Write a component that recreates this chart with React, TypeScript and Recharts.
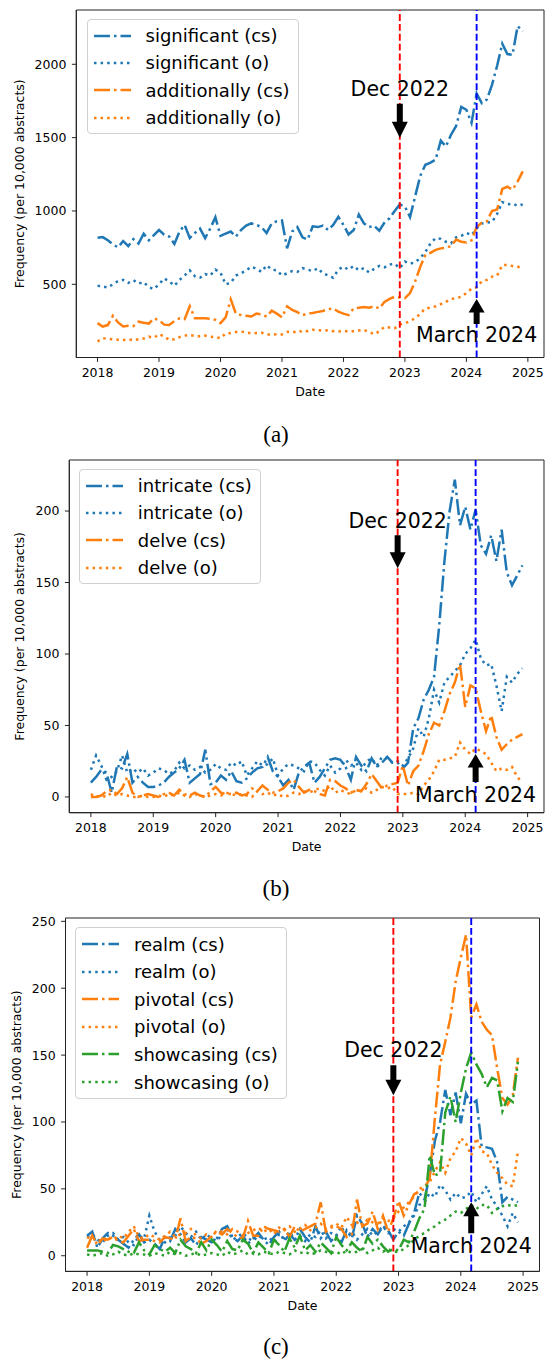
import React from 'react';
import { LineChart, Line, XAxis, YAxis, ReferenceLine, ReferenceArea, ReferenceDot, Legend } from 'recharts';

const BLUE = '#1f77b4';
const ORANGE = '#ff7f0e';
const GREEN = '#2ca02c';
const DASHDOT = '16 4 2.5 4';
const DOTTED = '2.5 4.1';
const FONT = '"DejaVu Sans", sans-serif';

// x = months since Jan 2018
const monthIdx = Array.from({ length: 84 }, (_, i) => i);
const yearTicks = [0, 12, 24, 36, 48, 60, 72, 84];
const yearLabels = ['2018', '2019', '2020', '2021', '2022', '2023', '2024', '2025'];
const DEC_2022 = 59;
const MAR_2024 = 74;

// (a)
const significantCs = [
  818, 822, 800, 772, 752, 795, 760, 808, 778, 845, 800, 835,
  870, 838, 825, 775, 860, 905, 815, 850, 880, 815, 880, 957,
  830, 845, 860, 825, 870, 900, 915, 905, 890, 850, 915, 930,
  935, 745, 860, 890, 820, 805, 895, 890, 900, 870, 905, 960,
  905, 840, 870, 975, 915, 890, 900, 865, 920, 950, 1000, 1045,
  1030, 958, 1100, 1240, 1315, 1330, 1350, 1480, 1440, 1520, 1580, 1710,
  1690, 1600, 1800, 1735, 1760, 1860, 1990, 2140, 2070, 2065, 2260, 2225,
];
const significantO = [
  490, 485, 478, 500, 522, 530, 510, 528, 505, 515, 480, 468,
  500, 540, 520, 490, 530, 560, 595, 555, 545, 570, 560, 600,
  580, 500, 510, 560, 575, 595, 620, 605, 585, 630, 600, 595,
  560, 575, 590, 585, 610, 600, 590, 610, 575, 560, 545, 600,
  620, 600, 625, 595, 610, 580, 605, 625, 615, 635, 640, 610,
  655, 640, 650, 680, 720, 780, 815, 810, 790, 780, 820, 830,
  850, 835, 880, 915, 920, 925, 980, 1060, 1045, 1050, 1035, 1045,
];
const additionallyCs = [
  235, 212, 222, 285, 240, 212, 218, 215, 245, 238, 232, 268,
  255, 225, 222, 250, 268, 262, 350, 268, 268, 268, 265, 258,
  235, 275, 398, 300, 290, 285, 280, 300, 295, 280, 320, 300,
  275, 350, 325, 310, 290, 300, 305, 312, 318, 330, 336, 313,
  300, 290, 336, 340, 345, 340, 350, 335, 380, 400, 415, 410,
  405, 440, 520, 620, 700, 715, 735, 745, 750, 760, 805, 790,
  785, 800, 890, 920, 930, 1000, 1010, 1150, 1165, 1145, 1200, 1270,
];
const additionallyO = [
  110, 132, 128, 125, 122, 120, 125, 118, 125, 130, 143, 135,
  160, 145, 120, 125, 140, 150, 155, 148, 145, 150, 143, 140,
  132, 165, 168, 175, 178, 172, 165, 168, 170, 160, 155, 160,
  158, 175, 178, 170, 185, 180, 190, 188, 184, 186, 180, 178,
  182, 178, 180, 185, 190, 175, 160, 180, 210, 205, 200, 225,
  234, 250, 268, 300, 336, 340, 350, 365, 380, 400, 405, 415,
  440, 470, 480, 520, 530, 552, 560, 630, 632, 625, 620, 610,
];

// (b)
const intricateCs = [
  10, 14, 19, 17, 3, 21, 20, 30, 10, 14, 10, 7,
  7, 8, 10, 14, 17, 20, 26, 10, 13, 16, 33, 9,
  10, 15, 12, 18, 11, 10, 13, 17, 20, 21, 28, 18,
  14, 8, 12, 5, 17, 21, 24, 10, 14, 20, 26, 27,
  26, 21, 12, 28, 22, 18, 27, 21, 24, 28, 24, 24,
  20, 24, 48, 55, 68, 75, 84, 120, 165, 200, 222, 190,
  203, 187, 201, 176, 170, 183, 165, 187, 157, 148, 155, 162,
];
const intricateO = [
  19, 29, 22, 12, 14, 18, 29, 17, 20, 17, 20, 15,
  17, 20, 19, 16, 18, 24, 20, 22, 19, 21, 17, 19,
  23, 20, 19, 24, 22, 25, 15, 20, 25, 22, 23, 27,
  15, 20, 23, 22, 20, 18, 25, 24, 19, 15, 22, 17,
  20, 26, 22, 24, 19, 25, 27, 22, 28, 27, 24, 25,
  22, 27, 34, 48, 42, 55, 75, 66, 80, 84, 88, 92,
  100, 104, 110, 97, 92, 93, 78, 60, 84, 80, 86, 90,
];
const delveCs = [
  0, 0, 1, 4, 5, 2, 6, 14, 3, 0, 1, 2,
  1, 0, 2, 3, 1, 5, 2, 1, 3, 1, 0, 4,
  7, 3, 2, 2, 3, 1, 2, 6, 4, 8, 5, 3,
  4, 6, 10, 12, 7, 3, 5, 4, 2, 1, 12, 11,
  8, 6, 3, 5, 4, 9, 16, 11, 6, 8, 9, 10,
  22, 8, 18, 22, 32, 44, 52, 50, 60, 72, 80, 93,
  63, 78, 76, 60, 46, 57, 42, 33, 37, 40, 42, 44,
];
const delveO = [
  2, 0, 1, 0, 3, 1, 2, 1, 0, 0, 1, 0,
  0, 1, 0, 2, 1, 3, 1, 0, 2, 1, 0, 1,
  2, 1, 3, 2, 1, 2, 1, 0, 4, 2, 3, 1,
  2, 0, 1, 3, 2, 4, 3, 5, 6, 4, 8, 3,
  5, 3, 2, 5, 4, 6, 3, 5, 7, 6, 7, 2,
  2, 2, 3, 2, 8, 12, 18, 26, 26, 27, 28, 38,
  33, 30, 34, 32, 30, 24, 18, 20, 19, 21, 14, 10,
];

// (c)
const realmCs = [
  15, 18, 6, 13, 17, 15, 12, 9, 6, 12, 16, 10,
  12, 9, 5, 14, 11, 20, 16, 10, 13, 8, 14, 12,
  10, 13, 20, 22, 14, 11, 15, 9, 13, 17, 12, 8,
  14, 18, 11, 16, 12, 20, 14, 10, 22, 13, 18, 11,
  15, 10, 19, 13, 30, 24, 14, 20, 16, 22, 19, 12,
  18, 15, 24, 32, 47, 42, 60, 86, 100, 124, 105, 122,
  99, 121, 113, 116, 82, 81, 80, 70, 40, 44, 42, 40,
];
const realmO = [
  14, 16, 12, 10, 15, 17, 12, 14, 10, 8, 15, 13,
  30, 18, 12, 10, 14, 15, 22, 17, 14, 18, 12, 16,
  13, 11, 16, 20, 12, 14, 17, 13, 11, 15, 12, 14,
  10, 16, 13, 18, 12, 15, 11, 16, 14, 19, 13, 17,
  15, 22, 14, 18, 12, 16, 20, 15, 18, 22, 17, 20,
  18, 22, 25, 30, 38, 40, 47, 44, 53, 49, 42, 47,
  43, 44, 48, 40, 46, 52, 42, 37, 30, 22, 32, 25,
];
const pivotalCs = [
  6, 15, 8, 13, 12, 14, 11, 10, 15, 20, 11, 12,
  12, 11, 10, 14, 13, 12, 28, 11, 14, 13, 9, 11,
  15, 18, 16, 20, 17, 14, 13, 26, 15, 15, 22, 20,
  19, 18, 20, 14, 22, 18, 20, 22, 24, 40, 18, 21,
  22, 20, 14, 16, 42, 22, 24, 33, 20, 30, 18, 28,
  41, 30, 38, 46, 48, 50, 58, 103, 143, 160, 178, 205,
  223, 240, 178, 188, 175, 169, 165, 140, 118, 113, 120, 148,
];
const pivotalO = [
  14, 12, 13, 10, 14, 12, 15, 13, 18, 22, 14, 13,
  16, 14, 12, 15, 18, 14, 16, 17, 20, 15, 13, 16,
  14, 19, 18, 16, 20, 18, 15, 17, 19, 21, 18, 20,
  16, 21, 19, 22, 18, 20, 23, 19, 21, 24, 20, 22,
  24, 21, 29, 23, 25, 22, 27, 25, 24, 28, 26, 28,
  33, 36, 40, 44, 50, 52, 55, 63, 70, 62, 73, 78,
  88, 84, 75, 88, 78, 77, 68, 62, 58, 53, 52, 78,
];
const showcasingCs = [
  4, 4, 4, 3, 2, 8, 7, 5, 3, 2, 10, 4,
  1, 8, 5, 3, 6, 2, 12, 7, 5, 2, 10, 4,
  12, 8, 3, 11, 5, 4, 12, 9, 2, 10, 6, 2,
  12, 8, 3, 13, 6, 15, 4, 8, 3, 10, 6, 2,
  14, 8, 4, 10, 6, 3, 14, 9, 12, 7, 3, 5,
  4, 12, 10, 18, 28, 35, 75, 60, 62, 107, 119, 100,
  122, 140, 152, 143, 136, 126, 133, 131, 108, 118, 115, 145,
];
const showcasingO = [
  1, 0, 1, 2, 0, 1, 3, 1, 0, 2, 1, 1,
  0, 2, 1, 0, 3, 1, 2, 0, 1, 2, 0, 1,
  2, 1, 0, 3, 1, 2, 4, 1, 2, 1, 3, 2,
  1, 3, 2, 1, 4, 2, 3, 1, 2, 4, 3, 2,
  3, 1, 4, 2, 3, 5, 2, 4, 6, 3, 5, 3,
  3, 5, 8, 12, 15, 17, 20, 22, 25, 27, 30, 33,
  32, 35, 38, 35, 38, 38, 32, 35, 37, 38, 37, 38,
];

type Series = { key: string; name: string; values: number[]; color: string; dash: string };

const panels = [
  {
    caption: '(a)', captionY: 435,
    plotTop: 10, plotBottom: 357.5, left: 76.3, right: 544,
    yDomain: [0.9, 2370.2], yTicks: [500, 1000, 1500, 2000], yLabelX: 24.3,
    legendLeft: 86.5, rowH: 27.3,
    dec: { tip: 1500, len: 34, head: 16, textDy: -42 },
    mar: { tip: 400, len: 25, head: 13.5, textDy: 43 },
    series: [
      { key: 'sigCs', name: 'significant (cs)', values: significantCs, color: BLUE, dash: DASHDOT },
      { key: 'sigO', name: 'significant (o)', values: significantO, color: BLUE, dash: DOTTED },
      { key: 'addCs', name: 'additionally (cs)', values: additionallyCs, color: ORANGE, dash: DASHDOT },
      { key: 'addO', name: 'additionally (o)', values: additionallyO, color: ORANGE, dash: DOTTED },
    ] as Series[],
  },
  {
    caption: '(b)', captionY: 889,
    plotTop: 460, plotBottom: 812.7, left: 69.3, right: 544,
    yDomain: [-11, 235.7], yTicks: [0, 50, 100, 150, 200], yLabelX: 24.3,
    legendLeft: 78.8, rowH: 27.3,
    dec: { tip: 160, len: 33, head: 16, textDy: -40 },
    mar: { tip: 30, len: 28, head: 13.5, textDy: 48 },
    series: [
      { key: 'intCs', name: 'intricate (cs)', values: intricateCs, color: BLUE, dash: DASHDOT },
      { key: 'intO', name: 'intricate (o)', values: intricateO, color: BLUE, dash: DOTTED },
      { key: 'delCs', name: 'delve (cs)', values: delveCs, color: ORANGE, dash: DASHDOT },
      { key: 'delO', name: 'delve (o)', values: delveO, color: ORANGE, dash: DOTTED },
    ] as Series[],
  },
  {
    caption: '(c)', captionY: 1347,
    plotTop: 918.3, plotBottom: 1271.7, left: 65.5, right: 539.5,
    yDomain: [-11.7, 252.5], yTicks: [0, 50, 100, 150, 200, 250], yLabelX: 20.8,
    legendLeft: 75, rowH: 27.6,
    dec: { tip: 120, len: 30, head: 15.5, textDy: -38.5 },
    mar: { tip: 40, len: 31, head: 14, textDy: 51 },
    series: [
      { key: 'reCs', name: 'realm (cs)', values: realmCs, color: BLUE, dash: DASHDOT },
      { key: 'reO', name: 'realm (o)', values: realmO, color: BLUE, dash: DOTTED },
      { key: 'piCs', name: 'pivotal (cs)', values: pivotalCs, color: ORANGE, dash: DASHDOT },
      { key: 'piO', name: 'pivotal (o)', values: pivotalO, color: ORANGE, dash: DOTTED },
      { key: 'shCs', name: 'showcasing (cs)', values: showcasingCs, color: GREEN, dash: DASHDOT },
      { key: 'shO', name: 'showcasing (o)', values: showcasingO, color: GREEN, dash: DOTTED },
    ] as Series[],
  },
];

const X_DOMAIN: [number, number] = [-4.15, 87.15];
const AXIS_H = 45;
const TOP_PAD = 10;

function arrowShape(label: string, dir: 'down' | 'up', a: { len: number; head: number; textDy: number }) {
  return (p: any) => {
    const { cx, cy } = p;
    const s = dir === 'down' ? -1 : 1;
    const pts = [
      [cx - 3, cy + s * a.len], [cx + 3, cy + s * a.len], [cx + 3, cy + s * a.head],
      [cx + 8, cy + s * a.head], [cx, cy], [cx - 8, cy + s * a.head], [cx - 3, cy + s * a.head],
    ].map((q) => q.join(',')).join(' ');
    return (
      <g>
        <polygon points={pts} fill="#000" />
        <text x={cx} y={cy + a.textDy} textAnchor="middle" fontSize={20.5} fontFamily={FONT} fill="#000">
          {label}
        </text>
      </g>
    );
  };
}

function LegendBox({ series, rowH }: { series: Series[]; rowH: number }) {
  return (
    <div style={{
      background: 'rgba(255,255,255,0.8)', border: '1px solid #d0d0d0', borderRadius: 4,
      padding: '2px 8px 2px 6px', fontFamily: FONT, fontSize: 18, color: '#000',
    }}>
      {series.map((s) => (
        <div key={s.key} style={{ display: 'flex', alignItems: 'center', height: rowH }}>
          <svg width={37} height={10} style={{ display: 'block' }}>
            <line x1={0} y1={5} x2={37} y2={5} stroke={s.color} strokeWidth={2.5} strokeDasharray={s.dash} />
          </svg>
          <span style={{ marginLeft: 15, whiteSpace: 'nowrap' }}>{s.name}</span>
        </div>
      ))}
    </div>
  );
}

function Panel({ cfg }: { cfg: (typeof panels)[number] }) {
  const chartTop = cfg.plotTop - TOP_PAD;
  const height = cfg.plotBottom - cfg.plotTop + TOP_PAD + AXIS_H;
  const data = monthIdx.map((m, i) => {
    const row: any = { m };
    cfg.series.forEach((s) => (row[s.key] = s.values[i]));
    return row;
  });
  const yLabel = (props: any) => {
    const vb = props.viewBox || {};
    const cy = (vb.y ?? TOP_PAD) + (vb.height ?? 0) / 2;
    return (
      <text x={cfg.yLabelX} y={cy} transform={`rotate(-90 ${cfg.yLabelX} ${cy})`} textAnchor="middle"
        fontSize={12.5} fontFamily={FONT} fill="#000">
        Frequency (per 10,000 abstracts)
      </text>
    );
  };
  return (
    <>
      <div style={{ position: 'absolute', left: 0, top: chartTop }}>
        <LineChart width={548} height={height} data={data}
          margin={{ top: TOP_PAD, right: 548 - cfg.right, bottom: 0, left: 0 }}>
          <XAxis dataKey="m" type="number" domain={X_DOMAIN} ticks={yearTicks}
            tickFormatter={(v: number) => yearLabels[yearTicks.indexOf(v)]}
            height={AXIS_H} stroke="#222" tickSize={4.4} tickMargin={6}
            tick={{ fill: '#000', fontSize: 12.5, fontFamily: FONT }}
            label={{ value: 'Date', position: 'insideBottom', offset: 6.3, fill: '#000', fontSize: 12.5, fontFamily: FONT }} />
          <YAxis type="number" domain={cfg.yDomain as [number, number]} ticks={cfg.yTicks}
            width={cfg.left} stroke="#222" tickSize={4.4} tickMargin={5.5}
            tick={{ fill: '#000', fontSize: 12.5, fontFamily: FONT }} label={yLabel} />
          <ReferenceArea x1={X_DOMAIN[0]} x2={X_DOMAIN[1]} y1={cfg.yDomain[0]} y2={cfg.yDomain[1]}
            fill="none" fillOpacity={0} stroke="#222" strokeWidth={1} />
          {cfg.series.map((s) => (
            <Line key={s.key} dataKey={s.key} name={s.name} type="linear" stroke={s.color}
              strokeWidth={2.5} strokeDasharray={s.dash} dot={false} activeDot={false}
              isAnimationActive={false} />
          ))}
          <ReferenceLine x={DEC_2022} stroke="#ff0000" strokeWidth={1.9} strokeDasharray="6.9 3" />
          <ReferenceLine x={MAR_2024} stroke="#0000ff" strokeWidth={1.9} strokeDasharray="6.9 3" />
          <ReferenceDot x={DEC_2022} y={cfg.dec.tip} r={0} ifOverflow="visible"
            shape={arrowShape('Dec 2022', 'down', cfg.dec)} />
          <ReferenceDot x={MAR_2024} y={cfg.mar.tip} r={0} ifOverflow="visible"
            shape={arrowShape('March 2024', 'up', cfg.mar)} />
          <Legend layout="vertical" align="center" verticalAlign="middle"
            wrapperStyle={{ left: cfg.legendLeft, top: TOP_PAD + 9, width: 'auto', height: 'auto' }}
            content={() => <LegendBox series={cfg.series} rowH={cfg.rowH} />} />
        </LineChart>
      </div>
      <div style={{
        position: 'absolute', left: 0, width: 552, top: cfg.captionY - 15, height: 30, lineHeight: '30px',
        textAlign: 'center', fontFamily: '"Liberation Serif", serif', fontSize: 23, color: '#000',
      }}>
        {cfg.caption}
      </div>
    </>
  );
}

export default function App() {
  return (
    <div style={{ position: 'absolute', left: 0, top: 0, width: 548, height: 1360, background: '#fff', overflow: 'hidden' }}>
      {panels.map((p) => (
        <Panel key={p.caption} cfg={p} />
      ))}
    </div>
  );
}
